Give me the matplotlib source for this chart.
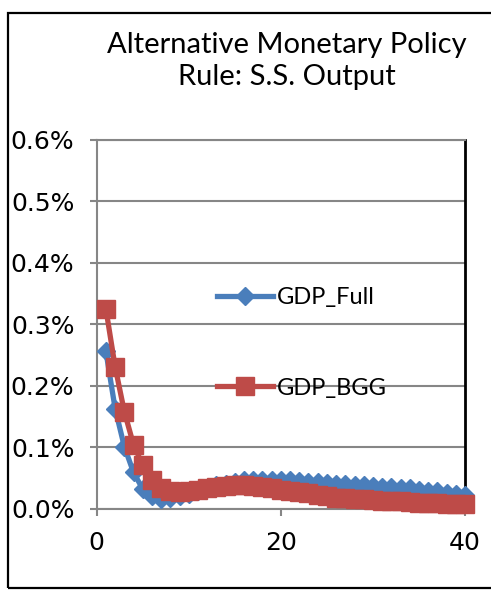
import matplotlib.pyplot as plt
from matplotlib.patches import Rectangle
from matplotlib.ticker import FuncFormatter, MultipleLocator

# Impulse responses of GDP (percent deviation) over 40 quarters
quarters = list(range(1, 41))
gdp_full = [0.256, 0.163, 0.101, 0.059, 0.032, 0.020, 0.016, 0.017, 0.020, 0.024,
            0.029, 0.034, 0.038, 0.041, 0.044, 0.046, 0.047, 0.047, 0.047, 0.046,
            0.046, 0.045, 0.044, 0.043, 0.042, 0.041, 0.040, 0.039, 0.038, 0.037,
            0.036, 0.035, 0.034, 0.033, 0.031, 0.029, 0.028, 0.026, 0.024, 0.022]
gdp_bgg = [0.325, 0.231, 0.158, 0.104, 0.071, 0.046, 0.033, 0.028, 0.027, 0.028,
           0.030, 0.033, 0.035, 0.037, 0.038, 0.038, 0.037, 0.036, 0.034, 0.031,
           0.029, 0.027, 0.025, 0.023, 0.020, 0.018, 0.017, 0.015, 0.015, 0.014,
           0.013, 0.012, 0.012, 0.011, 0.010, 0.010, 0.009, 0.008, 0.008, 0.007]

W, H = 491, 590
fig = plt.figure(figsize=(W / 100, H / 100), dpi=100)

# outer chart frame
fig.patches.append(Rectangle((8 / W, 1 - 588 / H), 1.0, (588 - 13) / H,
                             transform=fig.transFigure, fill=False,
                             edgecolor='black', linewidth=1.6))

ax = fig.add_axes([96.7 / W, 1 - 508.7 / H, (465 - 96.7) / W, (508.7 - 140) / H])

blue = '#4A7EBB'
red = '#BE4B48'
ax.plot(quarters, gdp_full, color=blue, linewidth=3.8, marker='D', markersize=9,
        label='GDP_Full', zorder=3, clip_on=False)
ax.plot(quarters, gdp_bgg, color=red, linewidth=3.8, marker='s', markersize=13.5,
        label='GDP_BGG', zorder=4, clip_on=False)

ax.set_xlim(0, 40)
ax.set_ylim(0, 0.6)
ax.xaxis.set_major_locator(MultipleLocator(20))
ax.yaxis.set_major_locator(MultipleLocator(0.1))
ax.yaxis.set_major_formatter(FuncFormatter(lambda v, p: f'{v:.1f}%'))

grey = '#868686'
ax.grid(axis='y', color=grey, linewidth=1.5)
ax.set_axisbelow(True)
for side in ['left', 'bottom', 'top']:
    ax.spines[side].set_color(grey)
    ax.spines[side].set_linewidth(1.5)
ax.spines['right'].set_color('black')
ax.spines['right'].set_linewidth(2)
ax.tick_params(axis='both', direction='out', length=5, width=1.5, color=grey,
               labelsize=18, pad=11)
for lab in ax.get_xticklabels() + ax.get_yticklabels():
    lab.set_family('DejaVu Sans')

ax.legend(loc='center left', bbox_to_anchor=(0.327, 0.45), frameon=False,
          prop={'family': 'Lato', 'size': 17}, handlelength=2.37,
          handletextpad=0.17, labelspacing=2.95, borderpad=0, borderaxespad=0)

fig.text(287 / W, 1 - 61 / H, 'Alternative Monetary Policy\nRule: S.S. Output',
         ha='center', va='center', family='Lato', fontsize=21, linespacing=1.25)

fig.savefig('out.png', dpi=100)
